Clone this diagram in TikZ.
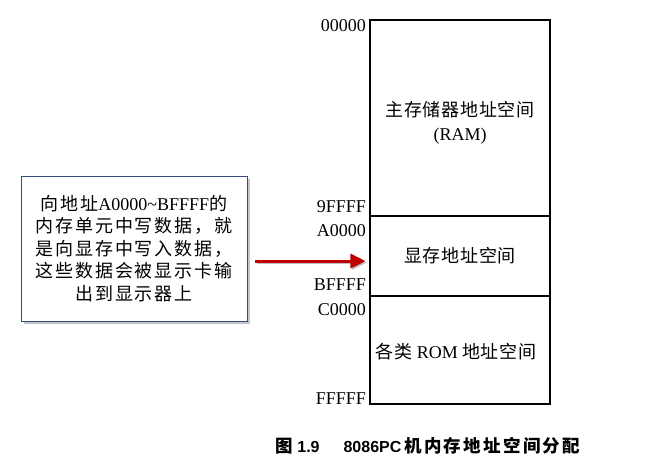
\documentclass[tikz,border=0pt]{standalone}
\usepackage{fontspec}
\setmainfont{Liberation Serif}
\newfontfamily\cjk[LetterSpace=4]{Noto Sans CJK SC}
\newfontfamily\cjkwide[LetterSpace=10]{Noto Sans CJK SC}
\newfontfamily\capsans{Liberation Sans}
\newfontfamily\capcjk[LetterSpace=13]{Noto Sans CJK SC}
\usetikzlibrary{arrows.meta,shadows}
\definecolor{noteborder}{RGB}{52,78,124}
\definecolor{arrowred}{RGB}{192,0,0}

\begin{document}
\begin{tikzpicture}[x=1pt, y=-1pt, every node/.style={inner sep=0pt},
    seg/.style={draw, line width=1.1pt, minimum width=180pt},
    addr/.style={anchor=east, font=\fontsize{18}{20}\selectfont},
    memtxt/.style={font=\fontsize{18}{24}\selectfont, align=center},
    note/.style={draw=noteborder, line width=1pt, fill=white,
      minimum width=226pt, minimum height=145pt, align=center,
      font=\fontsize{18}{22.5}\selectfont,
      drop shadow={shadow xshift=3pt, shadow yshift=-3pt, opacity=.45}},
    pointer/.style={draw=arrowred, line width=3pt,
      -{Triangle[length=15pt,width=14pt]}, shorten >=4pt}]
    \useasboundingbox (0,0) rectangle (656,467);

    % Memory map, three segments stacked
    \node[seg, minimum height=196pt] (ram) at (460,118) {};
    \node[seg, minimum height=80pt] (vram) at (460,256) {};
    \node[seg, minimum height=108pt] (rom) at (460,350) {};

    % Segment texts
    \node[memtxt] (ramtxt) at (460,123) {{\cjk 主存储器地址空间}\\(RAM)};
    \node[memtxt] (vramtxt) at (vram) {\cjk 显存地址空间};
    \node[memtxt] (romtxt) at (456,352) {{\cjk 各类} ROM {\cjk 地址空间}};

    % Addresses on the left edge
    \foreach \name/\y in {00000/26, 9FFFF/207, A0000/231, BFFFF/285, C0000/310, FFFFF/399}
      \node[addr] (a\name) at (366,\y) {\name};

    % Callout and its arrow
    \node[note] (note) at (134,248.5) {{\cjkwide 向地址}A0000\textasciitilde BFFFF{\cjkwide 的}\\
      {\cjkwide 内存单元中写数据，就}\\
      {\cjkwide 是向显存中写入数据，}\\
      {\cjkwide 这些数据会被显示卡输}\\
      {\cjkwide 出到显示器上}};
    \coordinate (tail) at (255,261);
    \draw[pointer, draw=black, opacity=.25, transform canvas={shift={(1.5pt,-1.5pt)}}] (tail) -- (vram.west |- tail);
    \draw[pointer] (tail) -- (vram.west |- tail);

    % Caption
    \node[font=\fontsize{16}{18}\selectfont\capsans\bfseries] (caption) at (428,446)
      {{\capcjk\fontsize{17.5}{18}\selectfont 图}\hspace{4pt}1.9\hspace{1.5em}8086PC\hspace{3pt}{\capcjk\fontsize{17.5}{18}\selectfont 机内存地址空间分配}};
  \end{tikzpicture}
\end{document}
